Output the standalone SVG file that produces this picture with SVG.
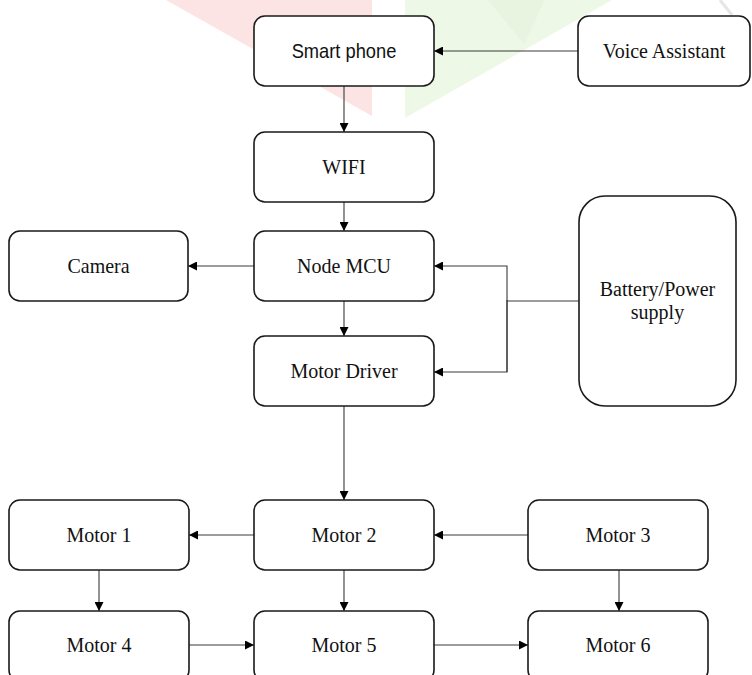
<svg xmlns="http://www.w3.org/2000/svg" width="752" height="675" viewBox="0 0 752 675">
<style>
.box{fill:#ffffff;stroke:#1a1a1a;stroke-width:1.6}
.t{font-family:"Liberation Serif","Times New Roman",serif;font-size:20px;fill:#111;text-anchor:middle}
.s{font-family:"Liberation Sans",Arial,sans-serif;font-size:18.3px;fill:#111;text-anchor:middle}
.c{fill:none;stroke:#3a3a3a;stroke-width:1.1}
</style>
<defs>
<marker id="ah" viewBox="0 0 10 10" refX="10" refY="5" markerWidth="9" markerHeight="9" markerUnits="userSpaceOnUse" orient="auto">
<path d="M0,0 L10,5 L0,10 Z" fill="#000"/>
</marker>
</defs>
<rect width="752" height="675" fill="#ffffff"/>
<g id="watermark">
<polygon points="166,0 372,0 372,116" fill="#fde4e4"/>
<polygon points="405,0 612,0 405,118" fill="#eef8e6"/>
<polygon points="488,0 545,0 524,44" fill="#e8f4e0"/>
<line x1="720" y1="0" x2="732" y2="15" stroke="#e6e6e6" stroke-width="3"/>
</g>
<g id="connectors">
<line class="c" x1="578" y1="51" x2="434" y2="51" marker-end="url(#ah)"/>
<line class="c" x1="344" y1="86" x2="344" y2="132" marker-end="url(#ah)"/>
<line class="c" x1="344" y1="202" x2="344" y2="231" marker-end="url(#ah)"/>
<line class="c" x1="254" y1="266" x2="188" y2="266" marker-end="url(#ah)"/>
<line class="c" x1="344" y1="301" x2="344" y2="336" marker-end="url(#ah)"/>
<polyline class="c" points="579,301 507,301"/>
<polyline class="c" points="507,372 507,266 434,266" marker-end="url(#ah)"/>
<polyline class="c" points="507,300 507,372 434,372" marker-end="url(#ah)"/>
<line class="c" x1="344" y1="406" x2="344" y2="500" marker-end="url(#ah)"/>
<line class="c" x1="254" y1="535" x2="189" y2="535" marker-end="url(#ah)"/>
<line class="c" x1="528" y1="535" x2="434" y2="535" marker-end="url(#ah)"/>
<line class="c" x1="99" y1="570" x2="99" y2="611" marker-end="url(#ah)"/>
<line class="c" x1="344" y1="570" x2="344" y2="611" marker-end="url(#ah)"/>
<line class="c" x1="619" y1="570" x2="619" y2="611" marker-end="url(#ah)"/>
<line class="c" x1="189" y1="645" x2="254" y2="645" marker-end="url(#ah)"/>
<line class="c" x1="434" y1="645" x2="528" y2="645" marker-end="url(#ah)"/>
</g>
<g id="smartphone">
<rect class="box" x="254" y="16" width="180" height="70" rx="11"/>
<text class="s" transform="translate(344 57.5) scale(1 1.1)">Smart phone</text>
</g>
<g id="voiceassistant">
<rect class="box" x="578" y="16" width="172" height="70" rx="11"/>
<text class="t" transform="translate(664 58) scale(1 1.1)">Voice Assistant</text>
</g>
<g id="wifi">
<rect class="box" x="254" y="132" width="180" height="70" rx="11"/>
<text class="t" transform="translate(344 174) scale(1 1.1)">WIFI</text>
</g>
<g id="camera">
<rect class="box" x="9" y="231" width="179" height="70" rx="11"/>
<text class="t" transform="translate(98.5 273) scale(1 1.1)">Camera</text>
</g>
<g id="nodemcu">
<rect class="box" x="254" y="231" width="180" height="70" rx="11"/>
<text class="t" transform="translate(344 273) scale(1 1.1)">Node MCU</text>
</g>
<g id="motordriver">
<rect class="box" x="254" y="336" width="180" height="70" rx="11"/>
<text class="t" transform="translate(344 378) scale(1 1.1)">Motor Driver</text>
</g>
<g id="battery">
<rect class="box" x="579" y="196" width="157" height="210" rx="26"/>
<text class="t" x="657.5" y="296">Battery/Power</text>
<text class="t" x="657.5" y="318.5">supply</text>
</g>
<g id="motor1">
<rect class="box" x="9" y="500" width="180" height="70" rx="11"/>
<text class="t" transform="translate(99 542) scale(1 1.1)">Motor 1</text>
</g>
<g id="motor2">
<rect class="box" x="254" y="500" width="180" height="70" rx="11"/>
<text class="t" transform="translate(344 542) scale(1 1.1)">Motor 2</text>
</g>
<g id="motor3">
<rect class="box" x="528" y="500" width="180" height="70" rx="11"/>
<text class="t" transform="translate(618 542) scale(1 1.1)">Motor 3</text>
</g>
<g id="motor4">
<rect class="box" x="9" y="611" width="180" height="70" rx="11"/>
<text class="t" transform="translate(99 652) scale(1 1.1)">Motor 4</text>
</g>
<g id="motor5">
<rect class="box" x="254" y="611" width="180" height="70" rx="11"/>
<text class="t" transform="translate(344 652) scale(1 1.1)">Motor 5</text>
</g>
<g id="motor6">
<rect class="box" x="528" y="611" width="180" height="70" rx="11"/>
<text class="t" transform="translate(618 652) scale(1 1.1)">Motor 6</text>
</g>
</svg>
